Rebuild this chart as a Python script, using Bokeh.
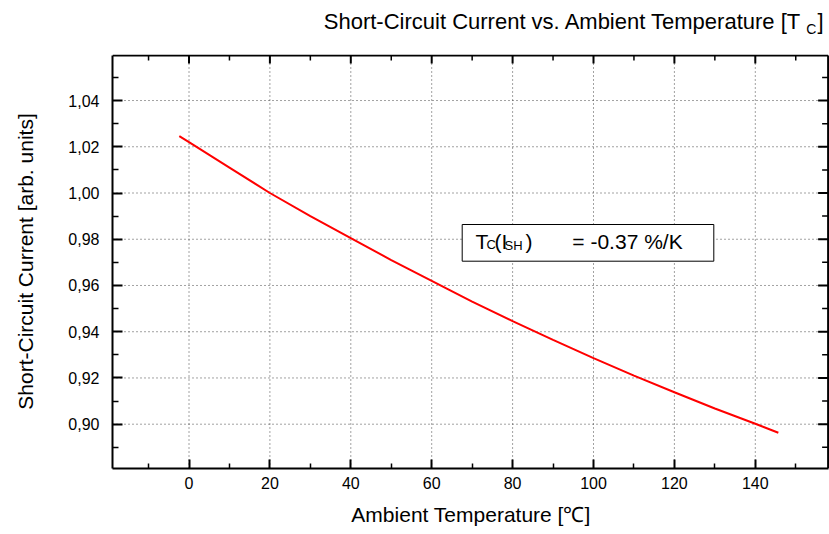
import math
from bokeh.plotting import figure
from bokeh.layouts import column
from bokeh.models import Range1d, FixedTicker, Label, BoxAnnotation
from bokeh.embed import file_html
from bokeh.resources import INLINE

# ---------------- data ----------------
temperature_c = [-2.4, 0, 10, 20, 30, 40, 50, 60, 70, 80, 90, 100, 110, 120, 130, 140, 145.7]
isc_rel = [1.0246, 1.0220, 1.0110, 1.0000, 0.9900, 0.9805, 0.9710, 0.9620, 0.9530,
           0.9446, 0.9365, 0.9286, 0.9210, 0.9138, 0.9068, 0.9002, 0.8963]

x_major_ticks = [0, 20, 40, 60, 80, 100, 120, 140]
x_minor_ticks = [-10, 10, 30, 50, 70, 90, 110, 130, 150]
y_major_ticks = [0.90, 0.92, 0.94, 0.96, 0.98, 1.00, 1.02, 1.04]
y_tick_labels = ["0,90", "0,92", "0,94", "0,96", "0,98", "1,00", "1,02", "1,04"]
y_minor_ticks = [0.89, 0.91, 0.93, 0.95, 0.97, 0.99, 1.01, 1.03, 1.05]

title_main = "Short-Circuit Current vs. Ambient Temperature [T"
title_sub = "C"
title_end = "]"
x_label = "Ambient Temperature [\u2103]"
y_label = "Short-Circuit Current [arb. units]"
ann_parts = ["T", "C", "(I", "SH", ")", "= -0.37 %/K"]

# ---------------- layout (pixel geometry of the page) ----------------
FONT = "Liberation Sans"
W, H = 829, 534
TITLE_H = 54               # height of the title strip
PH = H - TITLE_H           # height of the plot canvas
B_LEFT, B_BOTTOM = 112, 66
PX_PER_X = 4.045           # pixels per degree
PX_PER_Y = 2312.0          # pixels per unit of current
X_ZERO_PX = 188.5          # page x of 0 degC
Y_090_PX = 423.7           # page y of 0.90
FRAME_BOTTOM = H - B_BOTTOM
TXT_SHIFT = 8.5            # label baseline correction (px)

X0 = (B_LEFT - X_ZERO_PX) / PX_PER_X
XE = (W - X_ZERO_PX) / PX_PER_X
Y0 = 0.90 - (FRAME_BOTTOM - Y_090_PX) / PX_PER_Y
YE = 0.90 + (Y_090_PX - TITLE_H) / PX_PER_Y
X_RIGHT = 158.0            # right end of the x axis
Y_TOP = 0.90 + (Y_090_PX - 55) / PX_PER_Y


def dx(px):
    return (px - X_ZERO_PX) / PX_PER_X


def dy(py):
    return 0.90 + (Y_090_PX - py) / PX_PER_Y


# ---------------- title strip ----------------
tf = figure(width=W, height=TITLE_H, output_backend="svg", toolbar_location=None,
            x_range=Range1d(0, W), y_range=Range1d(TITLE_H, 0),
            x_axis_location=None, y_axis_location=None,
            min_border=0, min_border_left=0, min_border_right=0,
            min_border_top=0, min_border_bottom=0)
tf.outline_line_color = None
tf.xgrid.visible = False
tf.ygrid.visible = False
tf.background_fill_color = "white"
tf.border_fill_color = "white"


def title_text(txt, px, py, size, align="left"):
    tf.add_layout(Label(x=px, y=py - TXT_SHIFT, text=txt, text_font=FONT,
                        text_font_size=size, text_color="black", text_align=align,
                        text_baseline="alphabetic"))


title_text(title_main, 797, 29.5, "22px", align="right")
title_text(title_sub, 802, 36.5, "14px")
title_text(title_end, 815, 29.5, "22px")

# ---------------- main plot ----------------
p = figure(width=W, height=PH, output_backend="svg", toolbar_location=None,
           x_range=Range1d(X0, XE), y_range=Range1d(Y0, YE),
           min_border_left=B_LEFT, min_border_right=0,
           min_border_top=0, min_border_bottom=B_BOTTOM)
p.background_fill_color = "white"
p.border_fill_color = "white"
p.outline_line_color = None
p.xgrid.visible = False
p.ygrid.visible = False


def style_axis(ax, majors, minors, major_in, minor_in):
    ax.ticker = FixedTicker(ticks=majors, minor_ticks=minors)
    ax.axis_line_color = "black"
    ax.axis_line_width = 2
    ax.major_tick_line_color = "black"
    ax.major_tick_line_width = 2
    ax.minor_tick_line_color = "black"
    ax.minor_tick_line_width = 1.5
    ax.major_tick_in = major_in
    ax.major_tick_out = 0
    ax.minor_tick_in = minor_in
    ax.minor_tick_out = 0
    ax.major_label_text_font = FONT
    ax.major_label_text_font_size = "16px"
    ax.major_label_text_color = "black"
    ax.axis_label_text_font = FONT
    ax.axis_label_text_font_size = "21px"
    ax.axis_label_text_font_style = "normal"
    ax.axis_label_text_color = "black"


xa = p.xaxis[0]
style_axis(xa, x_major_ticks, x_minor_ticks, 9, 5)
xa.bounds = (X0, X_RIGHT)
xa.axis_label = x_label
xa.major_label_standoff = 8
xa.axis_label_standoff = 11

ya = p.yaxis[0]
style_axis(ya, y_major_ticks, y_minor_ticks, 10, 6)
ya.bounds = (Y0, Y_TOP)
ya.axis_label = y_label
ya.major_label_standoff = 13
ya.axis_label_standoff = 28
ya.major_label_overrides = dict(zip(y_major_ticks, y_tick_labels))

# dotted grid at the major ticks
grid_style = dict(line_color="#444444", line_dash="1 3", line_width=1)
p.segment(x0=x_major_ticks, y0=[Y0] * len(x_major_ticks),
          x1=x_major_ticks, y1=[Y_TOP] * len(x_major_ticks), **grid_style)
p.segment(x0=[X0] * len(y_major_ticks), y0=y_major_ticks,
          x1=[X_RIGHT] * len(y_major_ticks), y1=y_major_ticks, **grid_style)

# top and right edges of the box, with inward ticks
p.segment(x0=[X0, X_RIGHT], y0=[Y_TOP, Y0], x1=[X_RIGHT, X_RIGHT], y1=[Y_TOP, Y_TOP],
          line_color="black", line_width=2)
p.ray(x=x_major_ticks, y=Y_TOP, length=8, angle=-math.pi / 2, length_units="screen",
      line_color="black", line_width=2)
p.ray(x=x_minor_ticks, y=Y_TOP, length=5, angle=-math.pi / 2, length_units="screen",
      line_color="black", line_width=1.5)
p.ray(x=X_RIGHT, y=y_major_ticks, length=10, angle=math.pi, length_units="screen",
      line_color="black", line_width=2)
p.ray(x=X_RIGHT, y=y_minor_ticks, length=6, angle=math.pi, length_units="screen",
      line_color="black", line_width=1.5)

# the curve
p.line(temperature_c, isc_rel, line_color="#ff0000", line_width=2)

# annotation box
p.add_layout(BoxAnnotation(left=dx(461.7), right=dx(713.3), top=dy(224), bottom=dy(260.7),
                           fill_color="white", fill_alpha=1.0,
                           line_color="black", line_width=1, line_alpha=1.0))


def add_text(txt, px, py, size, align="left"):
    p.add_layout(Label(x=dx(px), y=dy(py - TXT_SHIFT), text=txt, text_font=FONT,
                       text_font_size=size, text_color="black",
                       text_align=align, text_baseline="alphabetic"))


add_text(ann_parts[0], 475, 249.5, "21px")
add_text(ann_parts[1], 486, 252.5, "13px")
add_text(ann_parts[2], 494, 249.5, "21px")
add_text(ann_parts[3], 504, 253, "13px")
add_text(ann_parts[4], 525, 249.5, "21px")
add_text(ann_parts[5], 627, 249.5, "21px", align="center")

layout = column(tf, p)
open("out.html", "w").write(file_html(layout, INLINE))
